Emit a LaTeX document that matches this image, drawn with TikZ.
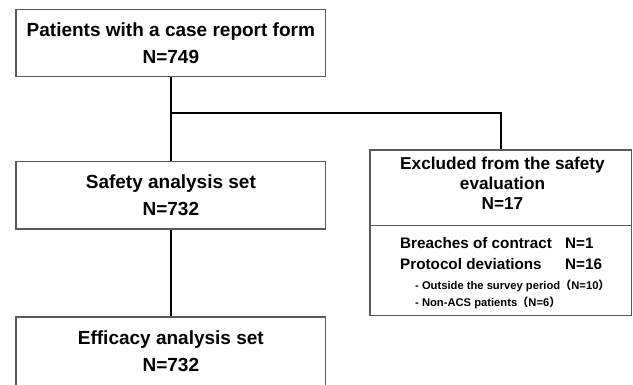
\documentclass[tikz,border=0pt]{standalone}
\usepackage{fontspec}
\setmainfont{Liberation Sans}
\newfontfamily\cjk{Noto Sans CJK SC}
\begin{document}
\begin{tikzpicture}[x=1pt,y=-1pt,
  box/.style={draw=black!65, line width=1.3pt, fill=white, inner sep=0pt,
    minimum width=309.7pt, align=center, font=\bfseries\fontsize{19}{27}\selectfont},
  rbox/.style={draw=black!65, line width=1.3pt, inner sep=0pt, minimum width=261.7pt},
  conn/.style={draw=black, line width=2pt},
  head/.style={inner sep=0pt, anchor=base, font=\bfseries\fontsize{17.2}{20}\selectfont},
  item/.style={inner sep=0pt, anchor=base west, font=\bfseries\fontsize{15.25}{18}\selectfont},
  sub/.style={inner sep=0pt, anchor=base west, font=\bfseries\fontsize{11.2}{13}\selectfont}]
\useasboundingbox (0,0) rectangle (633,385);
\fill[white] (0,0) rectangle (633,385);
% boxes
\node[box, minimum height=67.4pt] (crf) at (170.85,43) {Patients with a case report form\\N=749};
\node[box, minimum height=67.3pt] (saf) at (170.85,195.35) {Safety analysis set\\N=732};
\node[box, minimum height=69pt] (eff) at (170.85,351.5) {Efficacy analysis set\\N=732};
\node[rbox, minimum height=75.5pt] (exctop) at (500.85,187.75) {};
\node[rbox, minimum height=90.2pt] (excbot) at (500.85,270.6) {};
% connectors
\coordinate (branch) at (crf.south |- 0,113.3);
\draw[conn] (crf.south) -- (saf.north);
\draw[conn] (branch) -| (exctop.north);
\draw[conn] (saf.south) -- (eff.north);
% right box text
\node[head] (h1) at (502.5,169.3) {Excluded from the safety};
\node[head] (h2) at (502.5,189.5) {evaluation};
\node[head] (h3) at (502.5,210) {N=17};
\node[item] (b1) at (400,248.3) {Breaches of contract};
\node[item] (b1n) at (565,248.3) {N=1};
\node[item] (b2) at (400,269.3) {Protocol deviations};
\node[item] (b2n) at (565,269.3) {N=16};
\node[sub] (s1) at (415,290) {- Outside the survey period{\cjk （}N=10{\cjk ）}};
\node[sub] (s2) at (415,306.7) {- Non-ACS patients{\cjk （}N=6{\cjk ）}};
\end{tikzpicture}
\end{document}
